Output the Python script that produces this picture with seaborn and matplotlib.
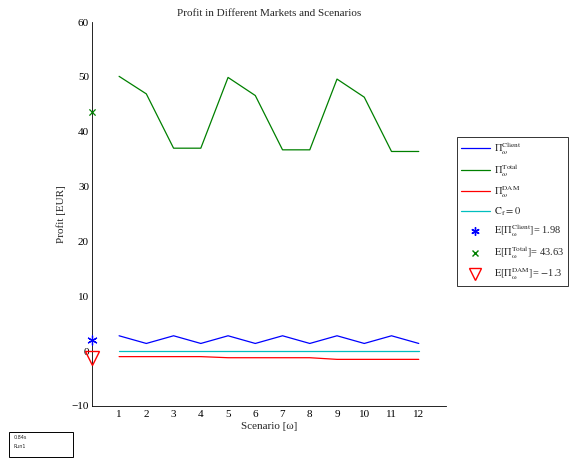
import matplotlib
matplotlib.use("Agg")
import matplotlib.pyplot as plt
import seaborn as sns
import pandas as pd
from matplotlib.lines import Line2D
from matplotlib.patches import Rectangle

scenarios = list(range(1, 13))
client = [2.8, 1.4, 2.8, 1.4, 2.8, 1.4, 2.8, 1.4, 2.8, 1.4, 2.8, 1.4]
total = [50.1, 46.9, 37.0, 37.0, 49.9, 46.6, 36.7, 36.7, 49.6, 46.3, 36.4, 36.4]
dam = [-1.0, -1.0, -1.0, -1.0, -1.2, -1.2, -1.2, -1.2, -1.5, -1.5, -1.5, -1.5]
cf = [0.0] * 12
e_client, e_total, e_dam = 1.98, 43.63, -1.3
xticks = list(range(1, 13))
yticks = [-10, 0, 10, 20, 30, 40, 50, 60]

sns.set_style("white")
plt.rcParams["font.family"] = ["Liberation Serif", "DejaVu Serif"]
plt.rcParams["mathtext.fontset"] = "stix"

fig = plt.figure(figsize=(5.74, 4.59), dpi=100)
ax = fig.add_axes([0.160, 0.1155, 0.617, 0.8365])

df = pd.DataFrame({"s": scenarios, "client": client, "total": total, "dam": dam, "cf": cf})
sns.lineplot(data=df, x="s", y="client", ax=ax, color="#0000ff", lw=0.9)
sns.lineplot(data=df, x="s", y="total", ax=ax, color="#008000", lw=0.9)
sns.lineplot(data=df, x="s", y="dam", ax=ax, color="#ff0000", lw=0.9)
sns.lineplot(data=df, x="s", y="cf", ax=ax, color="#00bfbf", lw=0.9)
sns.scatterplot(x=[0], y=[e_client], ax=ax, marker=(6, 2, 0), color="#0000ff", s=45,
                linewidth=0.9, clip_on=False, zorder=5)
sns.scatterplot(x=[0], y=[e_total], ax=ax, marker="x", color="#008000", s=20,
                linewidth=0.9, clip_on=False, zorder=5)
ax.plot([0], [e_dam], marker="v", markersize=10, markerfacecolor="none",
        markeredgecolor="#ff0000", linestyle="none", clip_on=False, zorder=5)

ax.set_xlim(0, 13)
ax.set_ylim(-10, 60)
ax.set_xticks(xticks)
ax.set_yticks(yticks)
ax.set_xticklabels([str(v) for v in xticks])
ax.set_yticklabels(["\u221210" if v < 0 else str(v) for v in yticks])
ax.tick_params(direction="in", length=3, labelsize=8, colors="black", pad=3)
ax.tick_params(axis="y", pad=2)
for sp in ["top", "right"]:
    ax.spines[sp].set_visible(False)
for sp in ["left", "bottom"]:
    ax.spines[sp].set_color("black")
    ax.spines[sp].set_linewidth(0.6)
ax.set_xlabel("Scenario [\u03c9]", fontsize=8, labelpad=2)
ax.set_ylabel("Profit [EUR]", fontsize=8, labelpad=4)
ax.set_title("Profit in Different Markets and Scenarios", fontsize=8, pad=4)

handles = [
    Line2D([], [], color="#0000ff", lw=0.9),
    Line2D([], [], color="#008000", lw=0.9),
    Line2D([], [], color="#ff0000", lw=0.9),
    Line2D([], [], color="#00bfbf", lw=0.9),
    Line2D([], [], color="#0000ff", marker=(6, 2, 0), ls="none", markersize=6),
    Line2D([], [], color="#008000", marker="x", ls="none", markersize=4.5),
    Line2D([], [], markeredgecolor="#ff0000", markerfacecolor="none", marker="v", ls="none", markersize=8),
]
labels = [
    r"$\Pi_\omega^{\rm Client}$",
    r"$\Pi_\omega^{\rm Total}$",
    r"$\Pi_\omega^{\rm DAM}$",
    r"$\rm C_f = 0$",
    r"$\rm E[\Pi_\omega^{Client}]$= 1.98",
    r"$\rm E[\Pi_\omega^{Total}]$= 43.63",
    r"$\rm E[\Pi_\omega^{DAM}]$= $-$1.3",
]
leg = fig.legend(handles, labels, loc="upper left", bbox_to_anchor=(0.796, 0.702),
                 fontsize=7.5, frameon=True, fancybox=False, handlelength=2.8,
                 labelspacing=0.5, borderpad=0.35, handletextpad=0.4, borderaxespad=0)
leg.get_frame().set_edgecolor("black")
leg.get_frame().set_linewidth(0.7)

fig.patches.append(Rectangle((9 / 574, 1 - 457 / 459), 64 / 574, 25 / 459,
                             transform=fig.transFigure, fill=False, ec="black", lw=0.7))
fig.text(14 / 574, 1 - 439 / 459, "0.84s", fontsize=3.5, family="DejaVu Sans")
fig.text(14 / 574, 1 - 448 / 459, "Run1", fontsize=3.5, family="DejaVu Sans")

fig.savefig("out.png", dpi=100)
